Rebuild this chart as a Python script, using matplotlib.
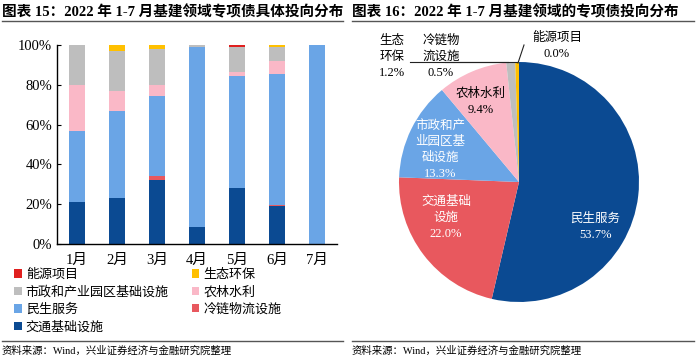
import numpy as np
import matplotlib
matplotlib.use("Agg")
import matplotlib.pyplot as plt
from matplotlib.ticker import PercentFormatter

plt.rcParams["font.family"] = ["Liberation Serif", "Noto Sans CJK SC"]

months = ["1月", "2月", "3月", "4月", "5月", "6月", "7月"]
# stacked shares (%), bottom to top
transport = [21.0, 23.0, 32.0, 8.7, 28.1, 18.9, 0.0]
coldchain = [0.0, 0.0, 2.4, 0.0, 0.0, 0.9, 0.0]
livelihood = [36.0, 44.0, 40.0, 90.1, 56.5, 65.5, 100.0]
agri = [23.0, 10.0, 5.6, 0.0, 1.7, 6.7, 0.0]
municipal = [20.0, 20.0, 17.8, 1.2, 12.9, 6.8, 0.0]
eco = [0.0, 3.0, 2.2, 0.0, 0.0, 1.2, 0.0]
energy = [0.0, 0.0, 0.0, 0.0, 0.8, 0.0, 0.0]

pie_labels = ["民生服务\n53.7%", "交通基础\n设施\n22.0%", "市政和产\n业园区基\n础设施\n13.3%",
              "农林水利\n9.4%", "生态\n环保\n1.2%", "冷链物\n流设施\n0.5%", "能源项目\n0.0%"]
pie_values = [53.7, 22.0, 13.3, 9.4, 1.2, 0.5, 0.0]

C_NAVY = "#0B4A92"
C_LBLUE = "#6AA5E6"
C_PINK = "#FAB8C7"
C_GRAY = "#BEBEBE"
C_YELLOW = "#FFC000"
C_COLD = "#E8585E"
C_ENERGY = "#E0201F"

W, H = 700, 359
fig = plt.figure(figsize=(7, 3.59), dpi=100)


def px(x0, y0, x1, y1):
    return [x0 / W, 1 - y1 / H, (x1 - x0) / W, (y1 - y0) / H]


# titles and rules
fig.text(2 / W, 1 - 12 / H, "图表 15：2022 年 1-7 月基建领域专项债具体投向分布",
         fontsize=10.5, fontweight="bold", va="center", ha="left")
fig.text(352 / W, 1 - 12 / H, "图表 16：2022 年 1-7 月基建领域的专项债投向分布",
         fontsize=10.5, fontweight="bold", va="center", ha="left")
for x0, x1, y in [(2, 343, 21), (352, 694, 21), (2, 343, 341), (352, 694, 341)]:
    fig.add_artist(plt.Line2D([x0 / W, x1 / W], [1 - y / H] * 2, color="#555555", lw=1.0))
fig.text(2 / W, 1 - 351 / H, "资料来源：Wind，兴业证券经济与金融研究院整理",
         fontsize=7.5, va="center", ha="left")
fig.text(352 / W, 1 - 351 / H, "资料来源：Wind，兴业证券经济与金融研究院整理",
         fontsize=7.5, va="center", ha="left")

# left: stacked bars
ax = fig.add_axes(px(57, 45, 337, 244))
x = np.arange(len(months))
series = [
    (transport, C_NAVY, "交通基础设施"),
    (coldchain, C_COLD, "冷链物流设施"),
    (livelihood, C_LBLUE, "民生服务"),
    (agri, C_PINK, "农林水利"),
    (municipal, C_GRAY, "市政和产业园区基础设施"),
    (eco, C_YELLOW, "生态环保"),
    (energy, C_ENERGY, "能源项目"),
]
bottom = np.zeros(len(months))
handles = {}
for vals, col, lab in series:
    v = np.array(vals)
    handles[lab] = ax.bar(x, v, 0.4, bottom=bottom, color=col, label=lab)
    bottom += v
ax.set_xlim(-0.5, 6.5)
ax.set_ylim(0, 100)
ax.set_yticks([0, 20, 40, 60, 80, 100])
ax.yaxis.set_major_formatter(PercentFormatter(decimals=0))
ax.set_xticks(x)
ax.set_xticklabels(months)
ax.tick_params(axis="y", direction="in", length=3, labelsize=10.5)
ax.tick_params(axis="x", length=0, labelsize=10.5, pad=7)
for s in ["top", "right"]:
    ax.spines[s].set_visible(False)
ax.spines["left"].set_linewidth(1.0)
ax.spines["bottom"].set_linewidth(1.0)

# column-major order so rows read: 能源/生态, 市政/农林, 民生/冷链, 交通
order = ["能源项目", "市政和产业园区基础设施", "民生服务", "交通基础设施",
         "生态环保", "农林水利", "冷链物流设施"]
fig.legend([handles[k] for k in order], order, loc="upper left",
           bbox_to_anchor=(14 / W, 1 - 269 / H), ncol=2, frameon=False,
           fontsize=9.4, handlelength=0.6, handleheight=0.6, handletextpad=0.3,
           columnspacing=1.75, labelspacing=0.38, borderaxespad=0, borderpad=0)

# right: pie
R = 120
cx, cy = 519, 182
pax = fig.add_axes(px(cx - R, cy - R, cx + R, cy + R))
pie_colors = [C_NAVY, C_COLD, C_LBLUE, C_PINK, C_GRAY, C_YELLOW, C_ENERGY]
pax.pie(pie_values, colors=pie_colors, startangle=90, counterclock=False,
        wedgeprops=dict(linewidth=0))
pax.set_xlim(-1, 1)
pax.set_ylim(-1, 1)
pax.set_aspect("equal")


def ptext(x, y, s, color="black"):
    fig.text(x / W, 1 - y / H, s, fontsize=9, color=color, ha="center",
             va="center", linespacing=1.45)


ptext(595, 227, pie_labels[0], "white")
ptext(446, 218, pie_labels[1], "white")
ptext(440, 150, pie_labels[2], "white")
ptext(481, 102, pie_labels[3])
ptext(392, 57, pie_labels[4])
ptext(441, 57, pie_labels[5])
ptext(557, 46, pie_labels[6])

for (x0, y0), (x1, y1) in [((410, 62), (508, 62)), ((445, 62), (517, 62)),
                           ((518, 63), (524, 45))]:
    fig.add_artist(plt.Line2D([x0 / W, x1 / W], [1 - y0 / H, 1 - y1 / H],
                              color="#222222", lw=0.8))

fig.savefig("out.png", dpi=100)
